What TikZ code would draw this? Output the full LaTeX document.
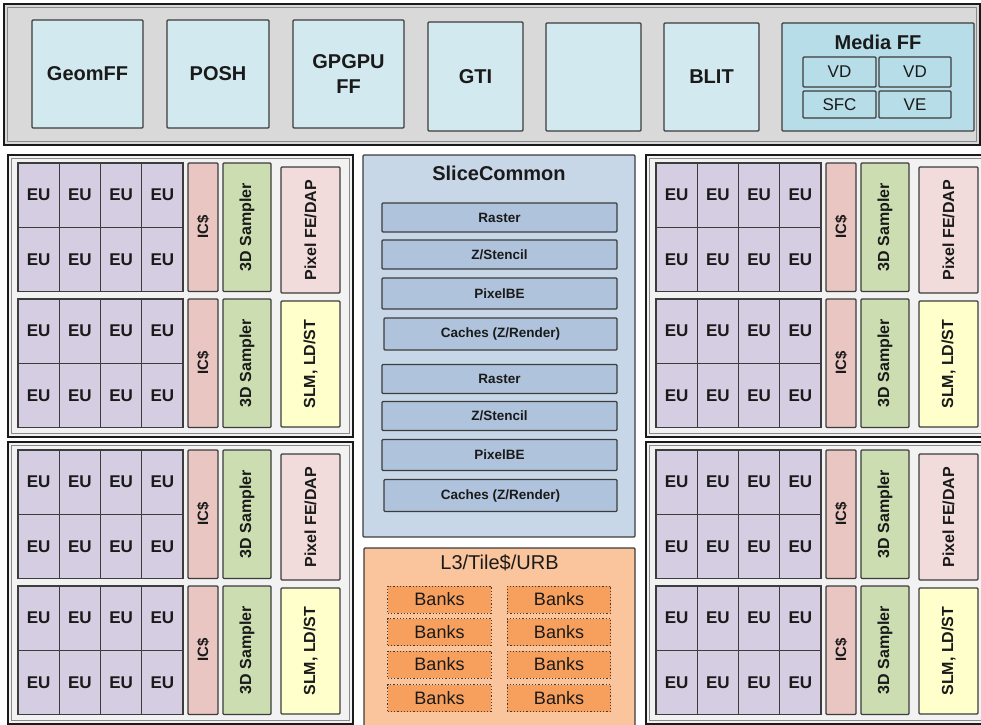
\documentclass[tikz,border=0pt]{standalone}
\usepackage{fontspec}
\setmainfont{Liberation Sans}

\definecolor{edge}{HTML}{3C3C3C}
\definecolor{ink}{HTML}{1A1A1A}
\definecolor{framegrey}{HTML}{D9D9D9}
\definecolor{slicegrey}{HTML}{F2F2F2}
\definecolor{ffblue}{HTML}{D2E9EF}
\definecolor{mediablue}{HTML}{B7DDE8}
\definecolor{eupurple}{HTML}{D5CDE1}
\definecolor{icpink}{HTML}{E9C6C2}
\definecolor{smpgreen}{HTML}{CCDDB1}
\definecolor{pixpink}{HTML}{F2DCDB}
\definecolor{slmyellow}{HTML}{FFFFCC}
\definecolor{commonblue}{HTML}{C8D7E7}
\definecolor{barblue}{HTML}{AFC3DC}
\definecolor{lthree}{HTML}{FAC59D}
\definecolor{bankorange}{HTML}{F7A05E}

\tikzset{
  blk/.style={draw=edge, line width=1.2pt, rounded corners=1pt, inner sep=0pt, text=ink, align=center},
  ffbox/.style={blk, fill=ffblue, font=\bfseries\fontsize{20}{25}\selectfont},
  mediabox/.style={blk, fill=mediablue},
  vdbox/.style={blk, fill=mediablue, font=\fontsize{17}{20}\selectfont},
  eu/.style={blk, rounded corners=0pt, fill=eupurple, minimum width=41.25, minimum height=64.25, font=\bfseries\fontsize{17}{20}\selectfont},
  icbox/.style={blk, fill=icpink, rotate=90, minimum width=128.5, minimum height=30, font=\bfseries\fontsize{15}{18}\selectfont},
  sampler/.style={blk, fill=smpgreen, rotate=90, minimum width=128.5, minimum height=48, font=\bfseries\fontsize{16}{19}\selectfont},
  pixfe/.style={blk, fill=pixpink, rotate=90, minimum width=126, minimum height=59, font=\bfseries\fontsize{16}{19}\selectfont},
  slm/.style={pixfe, fill=slmyellow},
  bar/.style={blk, fill=barblue, minimum height=30, font=\bfseries\fontsize{13.5}{16}\selectfont},
  bank/.style={blk, rounded corners=0pt, fill=bankorange, dotted, line width=1pt, minimum width=103.5, minimum height=27, font=\fontsize{18}{20}\selectfont},
  sliceframe/.style={draw=ink, line width=2pt, fill=slicegrey},
  sliceinner/.style={draw=edge!60, line width=0.8pt}
}

\begin{document}
\begin{tikzpicture}[x=1pt,y=1pt,yscale=-1,xscale=1]
\clip (0,0) rectangle (981,724);

%Shape: Rectangle (front end)
\draw[draw=ink, line width=2.5pt, fill=framegrey] (4,4) rectangle (980,145);
\draw[sliceinner] (7.5,7.5) rectangle (976.5,141.5);

% Text Node
\node[ffbox, minimum width=111, minimum height=108] (geomff) at (87.5,74) {GeomFF};
% Text Node
\node[ffbox, minimum width=102, minimum height=108] (posh) at (218,74) {POSH};
% Text Node
\node[ffbox, minimum width=111, minimum height=108] (gpgpu) at (348.5,74) {GPGPU\\FF};
% Text Node
\node[ffbox, minimum width=95, minimum height=109] (gti) at (475.5,76.5) {GTI};
% Text Node
\node[ffbox, minimum width=95, minimum height=108] (spare) at (593.5,77) {};
% Text Node
\node[ffbox, minimum width=95, minimum height=108] (blit) at (711.5,77) {BLIT};

%Shape: Rectangle (media)
\node[mediabox, minimum width=192, minimum height=108] (media) at (878,77) {};
\node[text=ink, inner sep=0pt, font=\bfseries\fontsize{20}{24}\selectfont] (mediatitle) at (878,42) {Media FF};
\node[vdbox, minimum width=73, minimum height=30] (vd-a) at (839.5,72) {VD};
\node[vdbox, minimum width=72, minimum height=30] (vd-b) at (915,72) {VD};
\node[vdbox, minimum width=73, minimum height=27] (sfc) at (839.5,104.5) {SFC};
\node[vdbox, minimum width=72, minimum height=27] (ve) at (915,104.5) {VE};

% Sub-slices
\foreach \sn/\sx/\sy in {a/0/0, b/0/287, c/638/0, d/638/287} {
  \begin{scope}[shift={(\sx,\sy)}]
    %Shape: Rectangle
    \draw[sliceframe] (8,155) rectangle (353,437);
    \draw[sliceinner] (11.5,158.5) rectangle (349.5,433.5);
    \foreach \g/\gy in {1/163, 2/299} {
      \foreach \r in {0,1} \foreach \c in {0,...,3} {
        \node[eu] (eu-\sn-\g-\r-\c) at ({18+41.25*(\c+0.5)},{\gy+64.25*(\r+0.5)}) {EU};
      }
      \node[icbox] (ic-\sn-\g) at (203,\gy+64.25) {IC\$};
      \node[sampler] (smp-\sn-\g) at (247,\gy+64.25) {3D Sampler};
    }
    \node[pixfe] (pixfe-\sn) at (310.5,230) {Pixel FE/DAP};
    \node[slm] (slm-\sn) at (310.5,364) {SLM, LD/ST};
  \end{scope}
}

%Shape: Rectangle (slice common)
\node[blk, fill=commonblue, minimum width=272, minimum height=382] (common) at (499,346) {};
\node[text=ink, inner sep=0pt, font=\bfseries\fontsize{20}{24}\selectfont] (commontitle) at (499,173) {SliceCommon};
\foreach \g/\off in {1/0, 2/161.5} {
  \node[bar, minimum width=235, minimum height=29] (raster-\g) at (499.5,217.5+\off) {Raster};
  \node[bar, minimum width=235, minimum height=29] (zst-\g) at (499.5,254.5+\off) {Z/Stencil};
  \node[bar, minimum width=235, minimum height=31] (pixbe-\g) at (499.5,293.5+\off) {PixelBE};
  \node[bar, minimum width=233, minimum height=32] (caches-\g) at (500.5,334+\off) {Caches (Z/Render)};
}

%Shape: Rectangle (L3)
\node[blk, fill=lthree, minimum width=271, minimum height=190] (lthree) at (499.5,643) {};
\node[text=ink, inner sep=0pt, font=\fontsize{20}{24}\selectfont] (lthreetitle) at (499.5,563) {L3/Tile\$/URB};
\foreach \r/\yy in {0/599.5, 1/632, 2/664.5, 3/698} {
  \node[bank] (bank-l-\r) at (439.5,\yy) {Banks};
  \node[bank] (bank-r-\r) at (559,\yy) {Banks};
}

\end{tikzpicture}
\end{document}
